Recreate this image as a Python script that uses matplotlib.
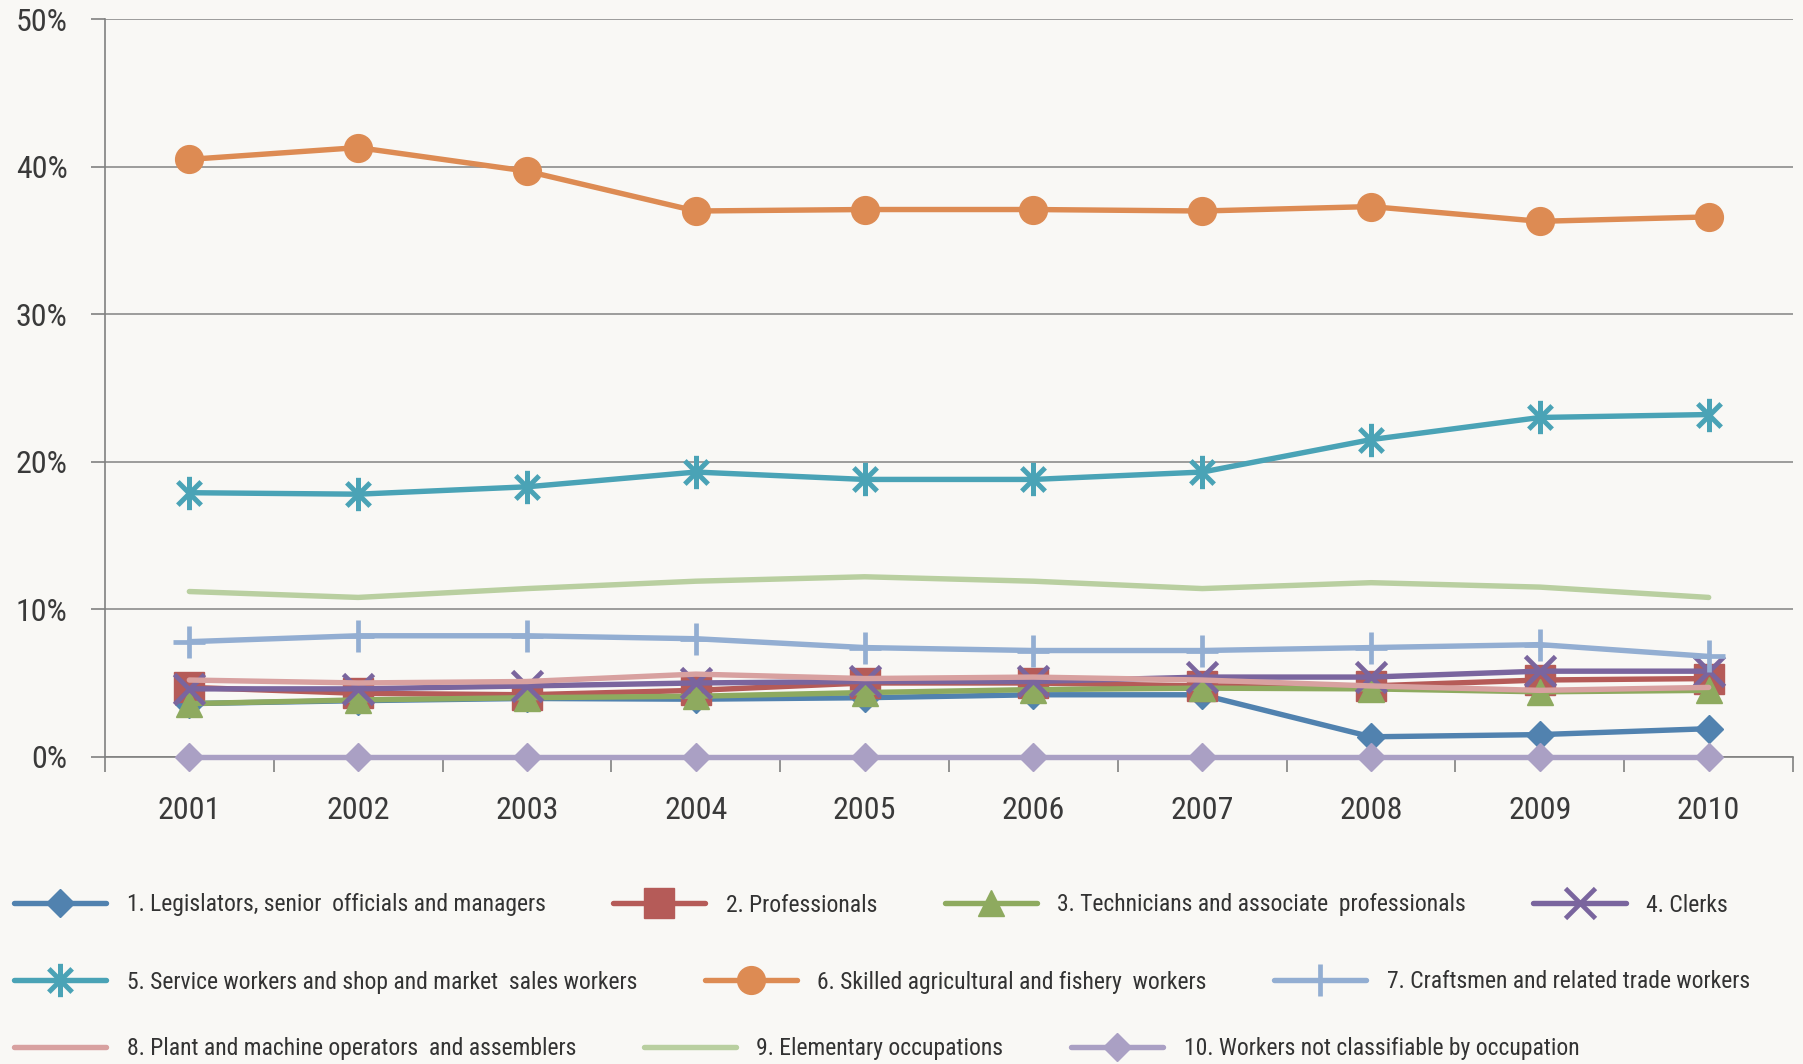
import numpy as np
import matplotlib
matplotlib.use('Agg')
import matplotlib.pyplot as plt
from matplotlib import font_manager as fm
from matplotlib.path import Path
from matplotlib.ticker import FixedLocator, PercentFormatter

# police etroite facon Helvetica Condensed, si disponible
installed = set(f.name for f in fm.fontManager.ttflist)
narrow = [n for n in ['Roboto Condensed', 'Liberation Sans Narrow', 'Archivo Narrow',
                      'PT Sans Narrow', 'Fira Sans Condensed', 'IBM Plex Sans Condensed']
          if n in installed]
plt.rcParams['font.family'] = narrow[:1] + ['DejaVu Sans']

# Donnees (en %)
years = ['2001', '2002', '2003', '2004', '2005', '2006', '2007', '2008', '2009', '2010']
labels = [
    '1. Legislators, senior  officials and managers',
    '2. Professionals',
    '3. Technicians and associate  professionals',
    '4. Clerks',
    '5. Service workers and shop and market  sales workers',
    '6. Skilled agricultural and fishery  workers',
    '7. Craftsmen and related trade workers',
    '8. Plant and machine operators  and assemblers',
    '9. Elementary occupations',
    '10. Workers not classifiable by occupation',
]
legislators = [3.6, 3.8, 3.95, 3.9, 4.0, 4.2, 4.2, 1.35, 1.5, 1.9]
professionals = [4.7, 4.3, 4.2, 4.5, 5.0, 5.0, 4.8, 4.8, 5.2, 5.3]
technicians = [3.6, 3.85, 4.0, 4.1, 4.35, 4.55, 4.65, 4.6, 4.4, 4.5]
clerks = [4.6, 4.6, 4.8, 5.0, 5.1, 5.1, 5.4, 5.4, 5.8, 5.8]
service = [17.9, 17.8, 18.3, 19.3, 18.8, 18.8, 19.3, 21.5, 23.0, 23.2]
agricultural = [40.5, 41.3, 39.7, 37.0, 37.1, 37.1, 37.0, 37.3, 36.3, 36.6]
craftsmen = [7.8, 8.2, 8.2, 8.0, 7.4, 7.2, 7.2, 7.4, 7.6, 6.8]
operators = [5.2, 5.0, 5.1, 5.6, 5.3, 5.4, 5.2, 4.8, 4.5, 4.7]
elementary = [11.2, 10.8, 11.4, 11.9, 12.2, 11.9, 11.4, 11.8, 11.5, 10.8]
not_classified = [0, 0, 0, 0, 0, 0, 0, 0, 0, 0]

series = [legislators, professionals, technicians, clerks, service,
          agricultural, craftsmen, operators, elementary, not_classified]

# marqueur etoile facon Excel (X + trait vertical)
asterisk = Path([(-0.7, -0.7), (0.7, 0.7), (-0.7, 0.7), (0.7, -0.7), (0, -1), (0, 1)],
                [Path.MOVETO, Path.LINETO] * 3)

styles = [
    dict(color='#5182af', marker='D', ms=14),
    dict(color='#b55b58', marker='s', ms=21),
    dict(color='#8eaa5f', marker='^', ms=19),
    dict(color='#7a659e', marker='x', ms=21, mew=3.4),
    dict(color='#4aa3b6', marker=asterisk, ms=24, mew=3.6),
    dict(color='#dd8b53', marker='o', ms=20),
    dict(color='#93aed2', marker='+', ms=23, mew=3.4),
    dict(color='#d8a1a0', marker=None),
    dict(color='#b9cfa0', marker=None),
    dict(color='#aaa0c4', marker='D', ms=14),
]

bg = '#f9f8f5'
fig = plt.figure(figsize=(18.03, 10.64), dpi=100, facecolor=bg)
ax = fig.add_axes([0.0582, 0.2888, 0.9363, 0.6931])
ax.set_facecolor(bg)

x = np.arange(1, len(years) + 1)
lines = []
for vals, lab, st in zip(series, labels, styles):
    ln, = ax.plot(x, vals, label=lab, lw=3.9, solid_capstyle='round', clip_on=False,
                  zorder=3, **st)
    lines.append(ln)

ax.set_xlim(0.5, len(years) + 0.5)
ax.set_ylim(0, 50)
ax.set_yticks(np.arange(0, 51, 10))
ax.yaxis.set_major_formatter(PercentFormatter(decimals=0))
ax.grid(axis='y', color='#8c8c8c', lw=1.2)
ax.set_axisbelow(True)

# ticks entre les categories, etiquettes au centre
ax.xaxis.set_major_locator(FixedLocator(np.arange(0.5, len(years) + 1, 1)))
ax.xaxis.set_minor_locator(FixedLocator(x))
ax.set_xticklabels([], minor=False)
ax.set_xticklabels(years, minor=True)
ax.tick_params(axis='x', which='major', length=10.5, width=1.2, color='#808080', direction='out')
ax.tick_params(axis='x', which='minor', length=0, pad=28, labelsize=23, labelcolor='#3a3a3a')
ax.tick_params(axis='y', length=10, width=1.2, color='#808080', pad=17, labelsize=23,
               labelcolor='#3a3a3a')

for s in ['top', 'right']:
    ax.spines[s].set_visible(False)
for s in ['left', 'bottom']:
    ax.spines[s].set_color('#808080')
    ax.spines[s].set_linewidth(1.2)

# legende sur trois lignes (mise en page par flux comme Excel)
rows = [(lines[0:4], 1 - 905 / 1064), (lines[4:7], 1 - 982 / 1064), (lines[7:10], 1 - 1049 / 1064)]
for hs, y in rows:
    fig.legend(handles=hs, loc='center left', bbox_to_anchor=(14 / 1803, y), ncol=len(hs),
               frameon=False, fontsize=17, handlelength=3.9, handletextpad=0.88,
               columnspacing=2.85, borderpad=0, borderaxespad=0, numpoints=1,
               labelcolor='#333333')

fig.savefig('out.png', dpi=100, facecolor=bg)
